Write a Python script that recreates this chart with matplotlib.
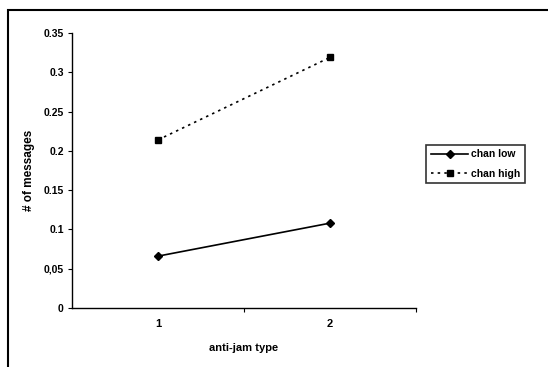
import matplotlib.pyplot as plt
from matplotlib.patches import Rectangle
from matplotlib.ticker import FixedLocator

# data
categories = [1, 2]
chan_low = [0.066, 0.108]
chan_high = [0.214, 0.319]
yticks = [0, 0.05, 0.1, 0.15, 0.2, 0.25, 0.3, 0.35]
ytick_labels = ["0", "0,05", "0.1", "0.15", "0.2", "0.25", "0.3", "0.35"]

plt.rcParams['font.family'] = ['Liberation Sans', 'DejaVu Sans']

fig = plt.figure(figsize=(5.48, 3.67), dpi=100)
ax = fig.add_axes([0.1314, 0.1608, 0.6277, 0.7492])

ax.plot(categories, chan_low, color='black', lw=1.2, marker='D', ms=4.5,
        label='chan low')
ax.plot(categories, chan_high, color='black', lw=1.2, ls=(0, (1.5, 2.5)),
        marker='s', ms=5, label='chan high')

ax.set_xlim(0.5, 2.5)
ax.set_ylim(0, 0.35)
ax.set_xticks(categories)
ax.set_xticklabels([str(c) for c in categories], fontweight='bold', fontsize=8)
ax.tick_params(axis='x', which='major', length=0, pad=8)
ax.xaxis.set_minor_locator(FixedLocator([1.5, 2.5]))
ax.tick_params(axis='x', which='minor', length=3, direction='out', width=0.8)
ax.set_yticks(yticks)
ax.set_yticklabels(ytick_labels, fontweight='bold', fontsize=7.5)
ax.tick_params(axis='y', length=3, width=0.8, pad=3)

for s in ['top', 'right']:
    ax.spines[s].set_visible(False)
for s in ['left', 'bottom']:
    ax.spines[s].set_linewidth(1.0)

ax.set_xlabel('anti-jam type', fontweight='bold', fontsize=8, labelpad=10)
ax.set_ylabel('# of messages', fontweight='bold', fontsize=8.5, labelpad=6)

leg = ax.legend(loc='upper left', bbox_to_anchor=(1.03, 0.594), frameon=True,
                fancybox=False, edgecolor='black', fontsize=7.5,
                handlelength=3.6, handletextpad=0.2, borderpad=0.45,
                labelspacing=0.9, borderaxespad=0)
leg.get_frame().set_linewidth(1.2)
for t in leg.get_texts():
    t.set_fontweight('bold')

# outer chart border
fig.patches.append(Rectangle((0.0146, -0.01), 1.0, 0.983, transform=fig.transFigure,
                             fill=False, edgecolor='black', lw=1.5))

fig.savefig('out.png', dpi=100)
